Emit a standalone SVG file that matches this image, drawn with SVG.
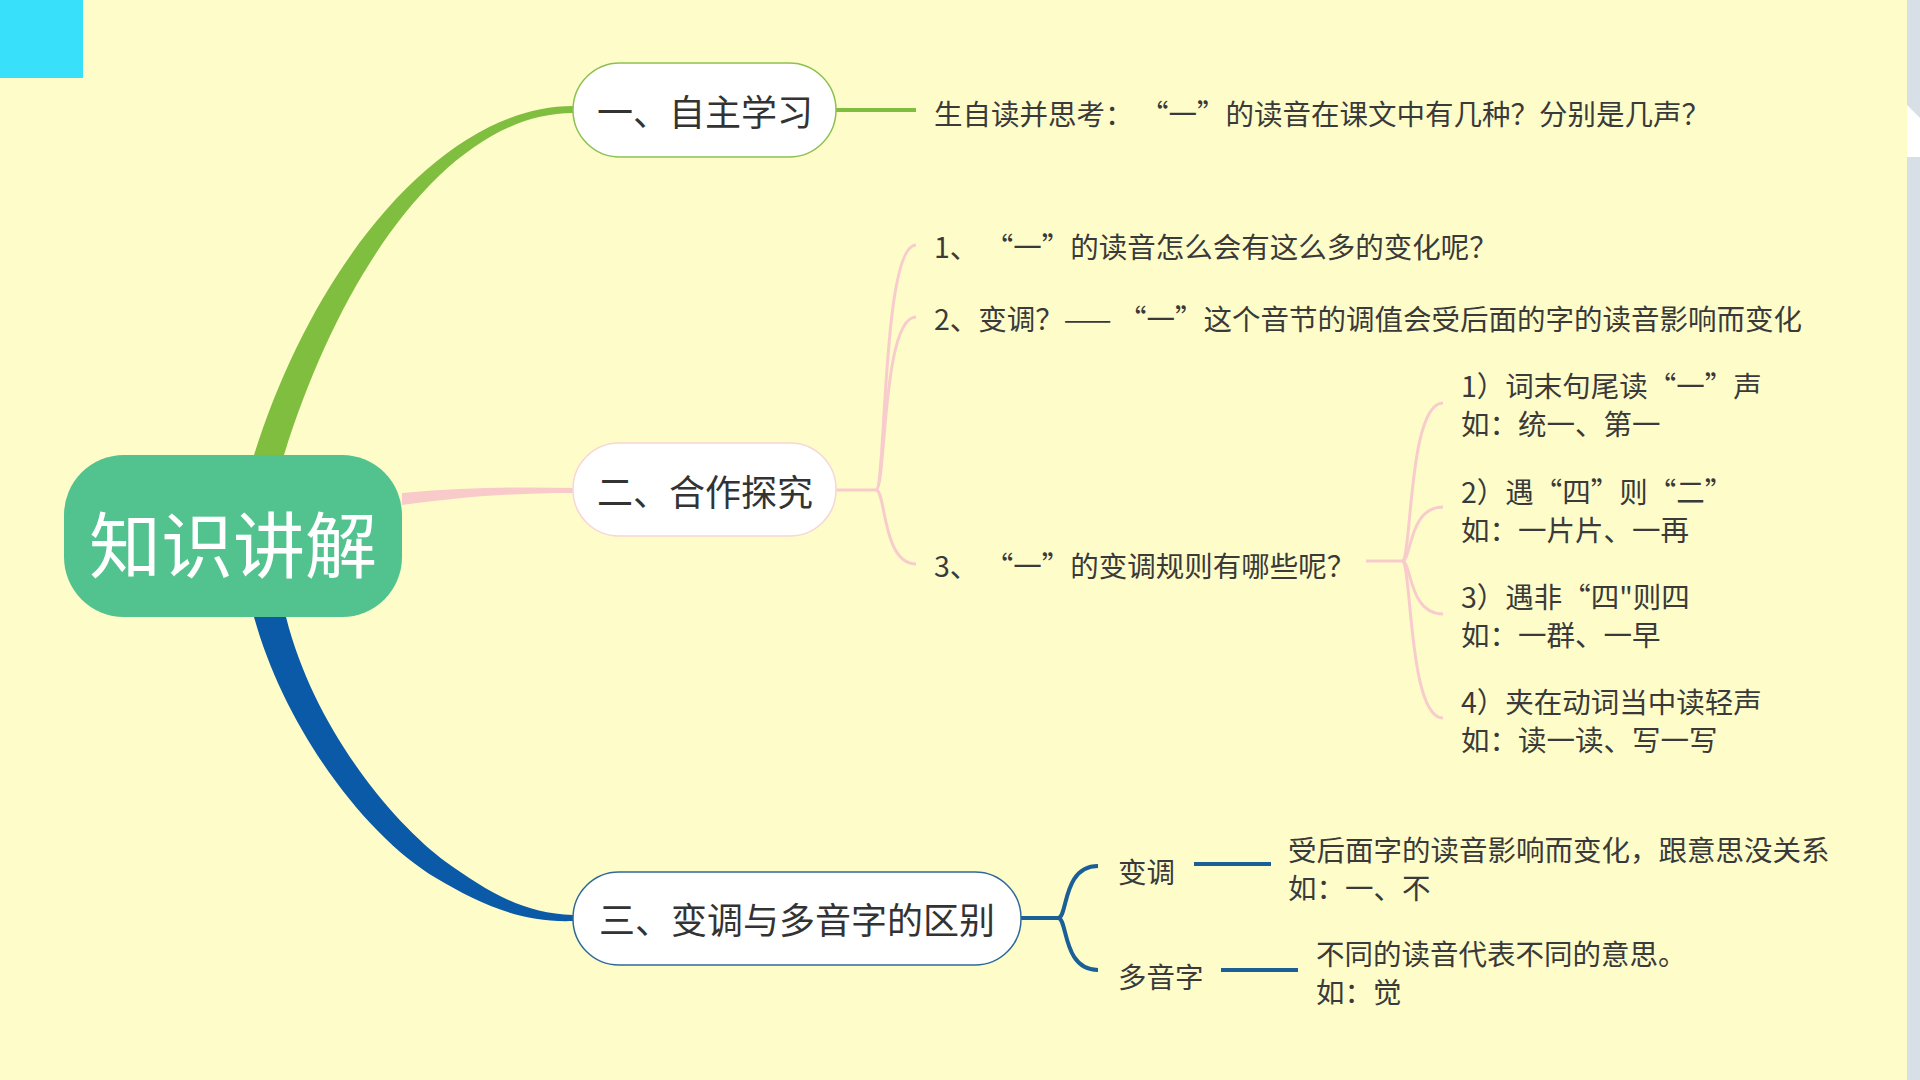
<svg xmlns="http://www.w3.org/2000/svg" width="1920" height="1080" viewBox="0 0 1920 1080">
<style>
.t{font-family:"Noto Sans CJK SC","Noto Sans",sans-serif;fill:#3a3a3a;font-size:28.5px;dominant-baseline:central}
.nl{font-family:"Noto Sans CJK SC","Noto Sans",sans-serif;fill:#333;font-size:36px;dominant-baseline:central;text-anchor:middle}
.pk{fill:none;stroke:#f8cccc;stroke-width:3}
.bl{fill:none;stroke:#1a5f96;stroke-width:4}
</style>
<rect width="1920" height="1080" fill="#fefdc9"/>
<rect x="0" y="0" width="83" height="78" fill="#38e1f9"/>
<rect x="1907" y="0" width="13" height="1080" fill="#d6e0e6"/>
<polygon points="1907,105 1920,118 1920,157 1907,157" fill="#ffffff"/>
<g id="connectors">
<path d="M254,455 C316,258 446,106 573,106 L573,113 C454,113 344,262 284,455 Z" fill="#80be3f"/>
<path d="M402,493 C470,487 520,487 573,488 L573,493 C520,493 470,496 402,505 Z" fill="#f9caca"/>
<path d="M254,617 C286,732 368,838 436,878 C478,903 520,923 573,921 L573,915 C522,914 484,889 446,862 C392,822 314,728 286,617 Z" fill="#0b5aa8"/>
<line x1="836" y1="110" x2="916" y2="110" stroke="#80be3f" stroke-width="4"/>
<path class="pk" d="M836,490 L876,490"/>
<path class="pk" d="M876,490 C886,490 882,245 916,245"/>
<path class="pk" d="M876,490 C886,490 882,317 916,317"/>
<path class="pk" d="M876,490 C886,490 882,564 916,564"/>
<path class="pk" d="M1366,561 L1402,561"/>
<path class="pk" d="M1402,561 C1412,561 1408,403 1443,403"/>
<path class="pk" d="M1402,561 C1412,561 1408,507 1443,507"/>
<path class="pk" d="M1402,561 C1412,561 1408,614 1443,614"/>
<path class="pk" d="M1402,561 C1412,561 1408,718 1443,718"/>
<path class="bl" d="M1021,918 L1058,918"/>
<path class="bl" d="M1058,918 C1068,918 1062,866 1098,866"/>
<path class="bl" d="M1058,918 C1068,918 1062,970 1098,970"/>
<line x1="1194" y1="864" x2="1271" y2="864" stroke="#1a5f96" stroke-width="4"/>
<line x1="1221" y1="970" x2="1298" y2="970" stroke="#1a5f96" stroke-width="4"/>
</g>
<g id="center">
<rect x="64" y="455" width="338" height="162" rx="60" fill="#52c28f"/>
<text x="233" y="540" font-family="Noto Sans CJK SC, sans-serif" font-size="72" fill="#ffffff" text-anchor="middle" dominant-baseline="central">知识讲解</text>
</g>
<g id="node1">
<rect x="573" y="63" width="263" height="94" rx="47" fill="#ffffff" stroke="#8cc152" stroke-width="1.5"/>
<text class="nl" x="705" y="110">一、自主学习</text>
</g>
<g id="node1-text">
<text class="t" x="934" y="112" xml:space="preserve">生自读并思考： “一”的读音在课文中有几种？分别是几声？</text>
</g>
<g id="node2">
<rect x="573" y="443" width="263" height="93" rx="46" fill="#ffffff" stroke="#f7d6d6" stroke-width="1.5"/>
<text class="nl" x="705" y="490">二、合作探究</text>
</g>
<g id="item1"><text class="t" x="934" y="245">1、 “一”的读音怎么会有这么多的变化呢？</text></g>
<g id="item2"><text class="t" x="934" y="317">2、变调？—— “一”这个音节的调值会受后面的字的读音影响而变化</text></g>
<g id="item3"><text class="t" x="934" y="564">3、 “一”的变调规则有哪些呢？</text></g>
<g id="rule1"><text class="t" x="1461" y="384">1）词末句尾读“一”声</text><text class="t" x="1461" y="422">如：统一、第一</text></g>
<g id="rule2"><text class="t" x="1461" y="490">2）遇“四”则“二”</text><text class="t" x="1461" y="528">如：一片片、一再</text></g>
<g id="rule3"><text class="t" x="1461" y="595">3）遇非“四"则四</text><text class="t" x="1461" y="633">如：一群、一早</text></g>
<g id="rule4"><text class="t" x="1461" y="700">4）夹在动词当中读轻声</text><text class="t" x="1461" y="738">如：读一读、写一写</text></g>
<g id="node3">
<rect x="573" y="872" width="448" height="93" rx="46" fill="#ffffff" stroke="#2d6a9a" stroke-width="1.5"/>
<text class="nl" x="797" y="918">三、变调与多音字的区别</text>
</g>
<g id="biandiao"><text class="t" x="1118" y="870">变调</text></g>
<g id="biandiao-desc"><text class="t" x="1288" y="848">受后面字的读音影响而变化，跟意思没关系</text><text class="t" x="1288" y="886">如：一、不</text></g>
<g id="duoyinzi"><text class="t" x="1118" y="975">多音字</text></g>
<g id="duoyinzi-desc"><text class="t" x="1316" y="952">不同的读音代表不同的意思。</text><text class="t" x="1316" y="990">如：觉</text></g>
</svg>
